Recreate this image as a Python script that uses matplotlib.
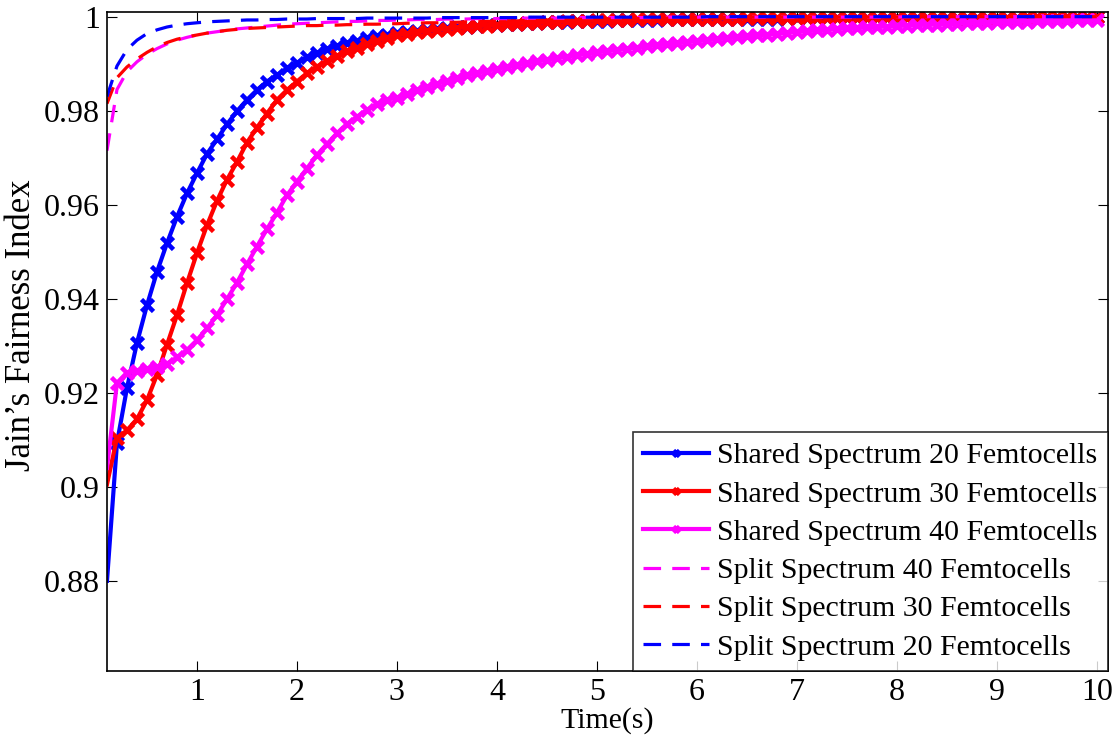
import numpy as np
import matplotlib
matplotlib.use("Agg")
import matplotlib.pyplot as plt

plt.rcParams['font.family'] = ['Liberation Serif', 'DejaVu Serif']

time_s = np.round(np.arange(1, 101) * 0.1, 1)

shared_20 = [
    0.8800, 0.9093, 0.9210, 0.9306, 0.9386, 0.9457, 0.9518, 0.9574, 0.9624, 0.9667,
    0.9708, 0.9739, 0.9771, 0.9799, 0.9823, 0.9844, 0.9862, 0.9876, 0.9890, 0.9902,
    0.9914, 0.9923, 0.9931, 0.9938, 0.9944, 0.9949, 0.9954, 0.9958, 0.9962, 0.9965,
    0.9968, 0.9970, 0.9972, 0.9974, 0.9976, 0.9978, 0.9979, 0.9981, 0.9982, 0.9983,
    0.9984, 0.9985, 0.9986, 0.9987, 0.9988, 0.9988, 0.9989, 0.9990, 0.9990, 0.9991,
    0.9991, 0.9992, 0.9992, 0.9993, 0.9993, 0.9993, 0.9994, 0.9994, 0.9994, 0.9995,
    0.9995, 0.9995, 0.9995, 0.9996, 0.9996, 0.9996, 0.9996, 0.9996, 0.9997, 0.9997,
    0.9997, 0.9997, 0.9997, 0.9997, 0.9997, 0.9997, 0.9998, 0.9998, 0.9998, 0.9998,
    0.9998, 0.9998, 0.9998, 0.9998, 0.9998, 0.9998, 0.9998, 0.9998, 0.9998, 0.9998,
    0.9998, 0.9998, 0.9999, 0.9999, 0.9999, 0.9999, 0.9999, 0.9999, 0.9999, 0.9999,
]

shared_30 = [
    0.9005, 0.9104, 0.9120, 0.9144, 0.9184, 0.9238, 0.9302, 0.9365, 0.9433, 0.9497,
    0.9556, 0.9608, 0.9653, 0.9691, 0.9732, 0.9764, 0.9794, 0.9823, 0.9844, 0.9862,
    0.9880, 0.9894, 0.9906, 0.9917, 0.9926, 0.9934, 0.9942, 0.9949, 0.9955, 0.9960,
    0.9964, 0.9967, 0.9970, 0.9972, 0.9974, 0.9976, 0.9978, 0.9980, 0.9981, 0.9982,
    0.9984, 0.9985, 0.9986, 0.9987, 0.9988, 0.9989, 0.9990, 0.9990, 0.9991, 0.9992,
    0.9992, 0.9993, 0.9993, 0.9994, 0.9994, 0.9994, 0.9995, 0.9995, 0.9995, 0.9996,
    0.9996, 0.9996, 0.9996, 0.9996, 0.9997, 0.9997, 0.9997, 0.9997, 0.9997, 0.9997,
    0.9997, 0.9998, 0.9998, 0.9998, 0.9998, 0.9998, 0.9998, 0.9998, 0.9998, 0.9998,
    0.9998, 0.9998, 0.9998, 0.9998, 0.9998, 0.9998, 0.9998, 0.9998, 0.9998, 0.9998,
    0.9998, 0.9998, 0.9999, 0.9999, 0.9999, 0.9999, 0.9999, 0.9999, 0.9999, 0.9999,
]

shared_40 = [
    0.9040, 0.9221, 0.9243, 0.9246, 0.9250, 0.9255, 0.9262, 0.9275, 0.9291, 0.9312,
    0.9337, 0.9365, 0.9399, 0.9434, 0.9473, 0.9511, 0.9548, 0.9583, 0.9620, 0.9649,
    0.9677, 0.9706, 0.9729, 0.9752, 0.9772, 0.9787, 0.9802, 0.9814, 0.9823, 0.9828,
    0.9836, 0.9843, 0.9850, 0.9857, 0.9863, 0.9869, 0.9875, 0.9880, 0.9885, 0.9889,
    0.9893, 0.9897, 0.9901, 0.9905, 0.9908, 0.9912, 0.9915, 0.9918, 0.9921, 0.9924,
    0.9927, 0.9929, 0.9932, 0.9934, 0.9937, 0.9939, 0.9941, 0.9943, 0.9946, 0.9948,
    0.9950, 0.9952, 0.9954, 0.9956, 0.9958, 0.9960, 0.9962, 0.9964, 0.9966, 0.9968,
    0.9969, 0.9971, 0.9972, 0.9974, 0.9975, 0.9976, 0.9977, 0.9978, 0.9979, 0.9980,
    0.9981, 0.9982, 0.9983, 0.9983, 0.9984, 0.9985, 0.9986, 0.9986, 0.9987, 0.9988,
    0.9988, 0.9989, 0.9989, 0.9990, 0.9990, 0.9991, 0.9991, 0.9992, 0.9992, 0.9993,
]

split_40 = [
    0.9715, 0.9845, 0.9883, 0.9904, 0.9920, 0.9932, 0.9942, 0.9950, 0.9956, 0.9961,
    0.9965, 0.9968, 0.9971, 0.9974, 0.9976, 0.9978, 0.9980, 0.9982, 0.9984, 0.9985,
    0.9986, 0.9987, 0.9988, 0.9989, 0.9990, 0.9990, 0.9991, 0.9992, 0.9992, 0.9993,
    0.9993, 0.9994, 0.9994, 0.9994, 0.9995, 0.9995, 0.9995, 0.9996, 0.9996, 0.9996,
    0.9996, 0.9997, 0.9997, 0.9997, 0.9997, 0.9997, 0.9997, 0.9998, 0.9998, 0.9998,
    0.9998, 0.9998, 0.9998, 0.9998, 0.9998, 0.9998, 0.9999, 0.9999, 0.9999, 0.9999,
    0.9999, 0.9999, 0.9999, 0.9999, 0.9999, 0.9999, 0.9999, 0.9999, 0.9999, 0.9999,
    0.9999, 0.9999, 0.9999, 0.9999, 0.9999, 0.9999, 0.9999, 0.9999, 0.9999, 0.9999,
    1.0000, 1.0000, 1.0000, 1.0000, 1.0000, 1.0000, 1.0000, 1.0000, 1.0000, 1.0000,
    1.0000, 1.0000, 1.0000, 1.0000, 1.0000, 1.0000, 1.0000, 1.0000, 1.0000, 1.0000,
]

split_30 = [
    0.9815, 0.9870, 0.9893, 0.9910, 0.9924, 0.9936, 0.9945, 0.9952, 0.9957, 0.9961,
    0.9965, 0.9968, 0.9971, 0.9973, 0.9975, 0.9976, 0.9977, 0.9978, 0.9979, 0.9980,
    0.9981, 0.9981, 0.9982, 0.9982, 0.9983, 0.9983, 0.9984, 0.9984, 0.9985, 0.9985,
    0.9986, 0.9986, 0.9987, 0.9987, 0.9988, 0.9988, 0.9989, 0.9989, 0.9990, 0.9990,
    0.9991, 0.9991, 0.9992, 0.9992, 0.9993, 0.9993, 0.9994, 0.9994, 0.9995, 0.9995,
    0.9995, 0.9996, 0.9996, 0.9996, 0.9997, 0.9997, 0.9997, 0.9997, 0.9998, 0.9998,
    0.9998, 0.9998, 0.9998, 0.9998, 0.9999, 0.9999, 0.9999, 0.9999, 0.9999, 0.9999,
    0.9999, 0.9999, 0.9999, 0.9999, 0.9999, 0.9999, 0.9999, 0.9999, 0.9999, 0.9999,
    1.0000, 1.0000, 1.0000, 1.0000, 1.0000, 1.0000, 1.0000, 1.0000, 1.0000, 1.0000,
    1.0000, 1.0000, 1.0000, 1.0000, 1.0000, 1.0000, 1.0000, 1.0000, 1.0000, 1.0000,
]

split_20 = [
    0.9830, 0.9895, 0.9930, 0.9950, 0.9964, 0.9972, 0.9978, 0.9982, 0.9985, 0.9987,
    0.9989, 0.9990, 0.9991, 0.9992, 0.9993, 0.9993, 0.9994, 0.9994, 0.9995, 0.9995,
    0.9995, 0.9996, 0.9996, 0.9996, 0.9996, 0.9996, 0.9997, 0.9997, 0.9997, 0.9997,
    0.9997, 0.9997, 0.9997, 0.9998, 0.9998, 0.9998, 0.9998, 0.9998, 0.9998, 0.9998,
    0.9998, 0.9998, 0.9999, 0.9999, 0.9999, 0.9999, 0.9999, 0.9999, 0.9999, 0.9999,
    0.9999, 0.9999, 0.9999, 0.9999, 0.9999, 0.9999, 0.9999, 0.9999, 0.9999, 0.9999,
    1.0000, 1.0000, 1.0000, 1.0000, 1.0000, 1.0000, 1.0000, 1.0000, 1.0000, 1.0000,
    1.0000, 1.0000, 1.0000, 1.0000, 1.0000, 1.0000, 1.0000, 1.0000, 1.0000, 1.0000,
    1.0000, 1.0000, 1.0000, 1.0000, 1.0000, 1.0000, 1.0000, 1.0000, 1.0000, 1.0000,
    1.0000, 1.0000, 1.0000, 1.0000, 1.0000, 1.0000, 1.0000, 1.0000, 1.0000, 1.0000,
]

x_ticks = [1, 2, 3, 4, 5, 6, 7, 8, 9, 10]
y_ticks = [0.88, 0.90, 0.92, 0.94, 0.96, 0.98, 1.00]
y_tick_labels = ['0.88', '0.9', '0.92', '0.94', '0.96', '0.98', '1']

fig = plt.figure(figsize=(11.19, 7.39), dpi=100)
ax = fig.add_axes([0.0956, 0.092, 0.8944, 0.8918])

solid_kw = dict(linewidth=3.0, marker='x', markersize=8.5, markeredgewidth=3.3,
                markevery=slice(1, None))
dash_kw = dict(linewidth=2.3, linestyle=(0, (5.5, 3.5)))

ax.plot(time_s, shared_20, color='#0000ff', label='Shared Spectrum 20 Femtocells', **solid_kw)
ax.plot(time_s, shared_30, color='#ff0000', label='Shared Spectrum 30 Femtocells', **solid_kw)
ax.plot(time_s, shared_40, color='#ff00ff', label='Shared Spectrum 40 Femtocells', **solid_kw)
ax.plot(time_s, split_40, color='#ff00ff', label='Split Spectrum 40 Femtocells', **dash_kw)
ax.plot(time_s, split_30, color='#ff0000', label='Split Spectrum 30 Femtocells', **dash_kw)
ax.plot(time_s, split_20, color='#0000ff', label='Split Spectrum 20 Femtocells', **dash_kw)

ax.set_xlim(0.1, 10.11)
ax.set_ylim(0.8608, 1.001)
ax.set_xticks(x_ticks)
ax.set_xticklabels([str(t) for t in x_ticks])
ax.set_yticks(y_ticks)
ax.set_yticklabels(y_tick_labels)
ax.tick_params(direction='in', length=7, width=0.8, top=True, right=True,
               labelsize=23, pad=5, colors='black')
for sp in ax.spines.values():
    sp.set_linewidth(1.2)

ax.set_xlabel('Time(s)', fontsize=21.5, labelpad=0)
ax.set_ylabel('Jain\u2019s Fairness Index', fontsize=25)
ax.yaxis.set_label_coords(-0.069, 0.525)

leg = ax.legend(loc='lower right', fontsize=21.5, frameon=True, fancybox=False,
                borderaxespad=0.0, handlelength=2.2, handletextpad=0.27,
                labelspacing=0.38, markerscale=0.45, borderpad=0.35)
leg.get_frame().set_edgecolor('black')
leg.get_frame().set_linewidth(1.2)

fig.savefig('out.png', dpi=100)
